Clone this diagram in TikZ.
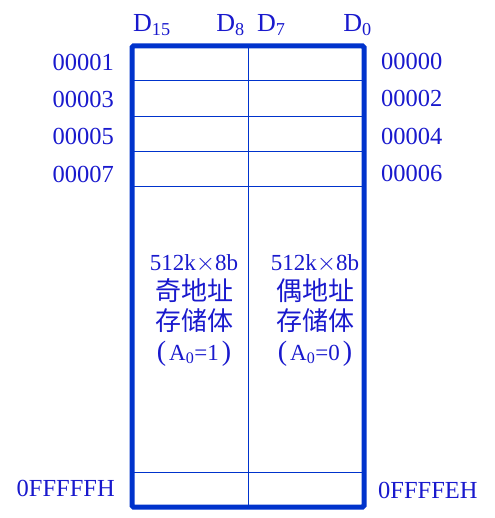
\documentclass[tikz,border=0pt]{standalone}
\usepackage{fontspec}
\setmainfont{Liberation Serif}
\newfontfamily\cjk{Noto Sans CJK SC}
\usetikzlibrary{positioning}
\definecolor{memblue}{RGB}{0,51,204}
\definecolor{txtblue}{RGB}{25,25,205}
\newcommand{\bigparen}[1]{{\fontsize{28}{30}\selectfont #1}}

\begin{document}
\begin{tikzpicture}[x=1pt,y=-1pt,
  lbl/.style={text=txtblue,inner sep=0pt,font=\fontsize{24.5}{26}\selectfont},
  bit/.style={lbl,font=\fontsize{26}{28}\selectfont},
  bank/.style={lbl,align=center,font=\fontsize{23}{30}\selectfont},
  grid/.style={draw=memblue,line width=1pt},
  frame/.style={draw=memblue,line width=5pt,rounded corners=1.5pt}]
\useasboundingbox (0,0) rectangle (494,518);
% memory grid
\foreach \y in {81,117,152,187,472}{\draw[grid] (132,\y) -- (364,\y);}
\draw[grid] (248,46) -- (248,507);
\draw[frame] (132,46) rectangle (364,507);
% data bits
\node[bit,anchor=base west] (d15) at (133,32) {D\textsubscript{15}};
\node[bit,anchor=base east] (d8) at (245,32) {D\textsubscript{8}};
\node[bit,anchor=base west] (d7) at (257,32) {D\textsubscript{7}};
\node[bit,anchor=base east] (d0) at (372,32) {D\textsubscript{0}};
% odd addresses
\node[lbl,anchor=base east] (a1) at (114,71) {00001};
\node[lbl,anchor=base east] (a3) at (114,108) {00003};
\node[lbl,anchor=base east] (a5) at (114,145) {00005};
\node[lbl,anchor=base east] (a7) at (114,183) {00007};
\node[lbl,anchor=base east] (aodd) at (115,496) {0FFFFFH};
% even addresses
\node[lbl,anchor=base west] (a0) at (381,70) {00000};
\node[lbl,anchor=base west] (a2) at (381,107) {00002};
\node[lbl,anchor=base west] (a4) at (381,145) {00004};
\node[lbl,anchor=base west] (a6) at (381,182) {00006};
\node[lbl,anchor=base west] (aeven) at (378,498) {0FFFFEH};
% banks
\node[bank] (odd) at (194,310) {512k$\times$8b\\{\cjk\fontsize{26}{30}\selectfont 奇地址}\\{\cjk\fontsize{26}{30}\selectfont 存储体}\\\bigparen{(}\hspace{3pt}A\textsubscript{0}=1\hspace{3pt}\bigparen{)}};
\node[bank] (even) at (315,310) {512k$\times$8b\\{\cjk\fontsize{26}{30}\selectfont 偶地址}\\{\cjk\fontsize{26}{30}\selectfont 存储体}\\\bigparen{(}\hspace{3pt}A\textsubscript{0}=0\hspace{3pt}\bigparen{)}};
\end{tikzpicture}
\end{document}
